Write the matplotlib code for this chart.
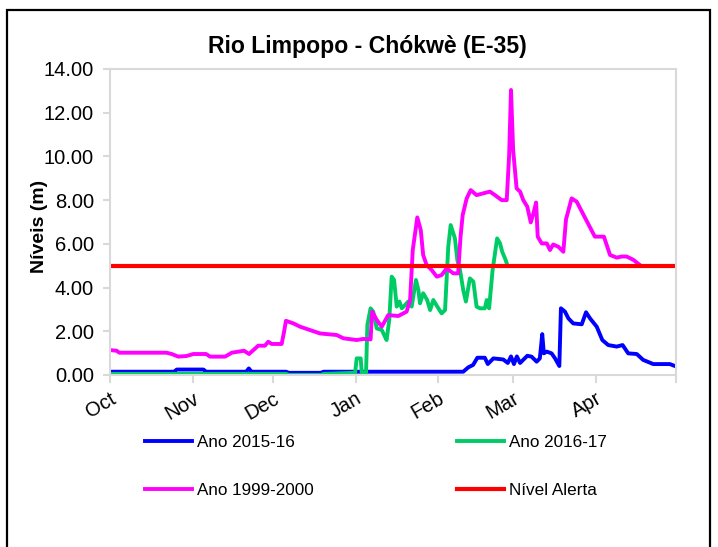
import matplotlib
matplotlib.use("Agg")
import matplotlib.pyplot as plt
from matplotlib.patches import Rectangle

plt.rcParams["font.family"] = ["Liberation Sans", "DejaVu Sans"]

# x axis: days since 1 October
month_labels = ["Oct", "Nov", "Dec", "Jan", "Feb", "Mar", "Apr"]
month_ticks = [0, 31, 61, 92, 123, 151, 182, 212]
y_ticks = [0, 2, 4, 6, 8, 10, 12, 14]

# Ano 2015-16
blue_days = [0, 24, 25, 35, 36, 51, 52, 53, 66, 67, 79, 80, 132.3, 134.2, 136, 137.6,
             140.4, 141.5, 143.6, 147.3, 149, 150.2, 151.3, 152.4, 153.6, 156.3, 157.9,
             159.8, 161, 161.9, 162.5, 163.6, 165.4, 166.7, 168.3, 168.9, 170.4, 171.7,
             173.5, 176.7, 178.3, 179.8, 182.3, 184.4, 186.6, 189.8, 192, 194.1, 197.3,
             199.7, 203.5, 209.7, 211.6, 212]
blue_vals = [0.15, 0.15, 0.25, 0.25, 0.15, 0.15, 0.3, 0.15, 0.15, 0.1, 0.1, 0.15, 0.15, 0.35,
             0.46, 0.79, 0.79, 0.5, 0.76, 0.71, 0.55, 0.85, 0.5, 0.85, 0.55, 0.88, 0.84,
             0.61, 0.76, 1.87, 0.99, 1.07, 0.99, 0.76, 0.41, 3.05, 2.9, 2.59, 2.36, 2.32,
             2.87, 2.59, 2.21, 1.6, 1.37, 1.3, 1.37, 0.99, 0.96, 0.69, 0.5, 0.5, 0.41, 0.43]

# Ano 2016-17
green_days = [0, 66, 67, 79, 80, 91.8, 92.4, 93.9, 94.3, 95.9, 96.4, 97.6, 98.6, 99.9,
              101.8, 103, 103.6, 104.6, 105.5, 106.4, 107.4, 108.4, 109.3, 110.5, 111.7,
              113, 114.6, 115.5, 116.1, 117.3, 118.8, 119.9, 121.1, 123, 124.2, 125.5,
              126.7, 127.6, 129.2, 130.1, 131.1, 132.3, 133.3, 134.8, 136.1, 137.3, 138.6,
              140.4, 141.1, 142, 143.3, 145, 146.1, 146.9, 148.2, 148.6]
green_vals = [0.05, 0.05, 0.0, 0.0, 0.05, 0.1, 0.76, 0.76, 0.1, 0.1, 2.29, 3.05, 2.9, 2.13,
              2.06, 1.75, 1.6, 2.52, 4.5, 4.35, 3.13, 3.36, 3.05, 3.2, 3.36, 3.13, 4.35,
              3.89, 3.28, 3.74, 3.43, 2.97, 3.43, 3.05, 2.82, 2.97, 5.87, 6.86, 6.25, 5.26,
              4.8, 3.89, 3.36, 4.42, 4.27, 3.13, 3.05, 3.05, 3.43, 3.05, 4.8, 6.25, 6.02,
              5.64, 5.26, 5.11]

# Ano 1999-2000
mag_days = [0, 2.5, 3.5, 21.2, 23.1, 25.6, 28.7, 31.2, 36, 37.5, 43.1, 45.6, 50.2, 52.1,
            53.7, 55.5, 58, 59.3, 60.6, 64.3, 65.2, 65.9, 68.7, 71.2, 78.7, 84.9, 87.4,
            92.4, 94.9, 97.6, 98.2, 99.9, 101.8, 104.2, 108, 111.1, 112.4, 113.4, 115.1,
            116.4, 117.3, 118.6, 120.5, 122.4, 124.2, 126.1, 128.6, 130.4, 131.3, 132.1,
            133.6, 135.1, 137.3, 139.8, 142.3, 144.2, 146.7, 148.6, 149.5, 150.2, 151,
            152.3, 153.6, 154.8, 156.3, 157.6, 158.6, 159.6, 160.2, 161.7, 163.6, 164.8,
            166, 167.9, 169.8, 170.8, 172.9, 174.8, 181.6, 185, 187.3, 189.8, 191.6, 193.5,
            196, 198.5]
mag_vals = [1.14, 1.11, 1.02, 1.02, 0.96, 0.84, 0.87, 0.96, 0.96, 0.84, 0.84, 1.02, 1.11,
            0.96, 1.14, 1.34, 1.34, 1.52, 1.42, 1.42, 1.98, 2.48, 2.36, 2.21, 1.9, 1.83,
            1.68, 1.6, 1.65, 1.63, 2.9, 2.52, 2.21, 2.74, 2.7, 2.9, 3.43, 5.72, 7.21, 6.63,
            5.49, 5.03, 4.8, 4.5, 4.57, 4.88, 4.65, 4.65, 6.33, 7.32, 8.08, 8.46, 8.23, 8.31,
            8.39, 8.23, 8.0, 8.0, 10.06, 13.04, 10.29, 8.54, 8.39, 8.0, 7.7, 6.98, 7.4, 7.89,
            6.33, 6.02, 6.02, 5.72, 5.97, 5.87, 5.64, 7.12, 8.08, 7.93, 6.33, 6.33, 5.49,
            5.37, 5.42, 5.42, 5.27, 5.03]

# Nivel de alerta
alert_days = [0, 212]
alert_vals = [5.0, 5.0]

W, H = 718, 547
fig = plt.figure(figsize=(W / 100, H / 100), dpi=100)
ax = fig.add_axes([110 / W, 1 - 375 / H, (676 - 110) / W, (375 - 69) / H])

lw = 2.8
ax.plot(blue_days, blue_vals, color="#0000ff", lw=lw, label="Ano 2015-16")
ax.plot(green_days, green_vals, color="#00cc66", lw=lw, label="Ano 2016-17")
ax.plot(mag_days, mag_vals, color="#ff00ff", lw=lw, label="Ano 1999-2000")
ax.plot(alert_days, alert_vals, color="#ff0000", lw=3.0, label="Nível Alerta")

ax.set_xlim(0, 212)
ax.set_ylim(0, 14)
ax.set_yticks(y_ticks)
ax.set_yticklabels([f"{v:.2f}" for v in y_ticks])
ax.set_xticks(month_ticks)
ax.set_xticklabels(month_labels + [""], rotation=30, ha="right", va="top",
                   rotation_mode="anchor")

grey = "#d9d9d9"
for s in ax.spines.values():
    s.set_color(grey)
    s.set_linewidth(1.5)
ax.tick_params(axis="y", direction="out", length=5, width=1.5, color=grey,
               labelsize=14.5, pad=6.5)
ax.tick_params(axis="x", direction="out", length=6, width=1.5, color=grey,
               labelsize=14.5, pad=4)

fig.text(367 / W, 1 - 46 / H, "Rio Limpopo - Chókwè (E-35)", ha="center", va="center",
         fontsize=16.6, fontweight="bold")
fig.text(40 / W, 1 - 226 / H, "Níveis (m)", ha="center", va="center", rotation=90,
         fontsize=14, fontweight="bold")

handles, labels = ax.get_legend_handles_labels()
order = [0, 2, 1, 3]
fig.legend([handles[i] for i in order], [labels[i] for i in order], ncol=2,
           loc="upper left", bbox_to_anchor=(145 / W, 1 - 435 / H), frameon=False,
           fontsize=12.3, handlelength=2.75, handletextpad=0.3, columnspacing=8.4,
           labelspacing=1.95, borderpad=0, borderaxespad=0)

fig.patches.append(Rectangle((7 / W, -0.02), (710 - 7) / W, 1.02 - 10 / H,
                             transform=fig.transFigure, fill=False, ec="black", lw=1.6))

fig.savefig("out.png", dpi=100)
